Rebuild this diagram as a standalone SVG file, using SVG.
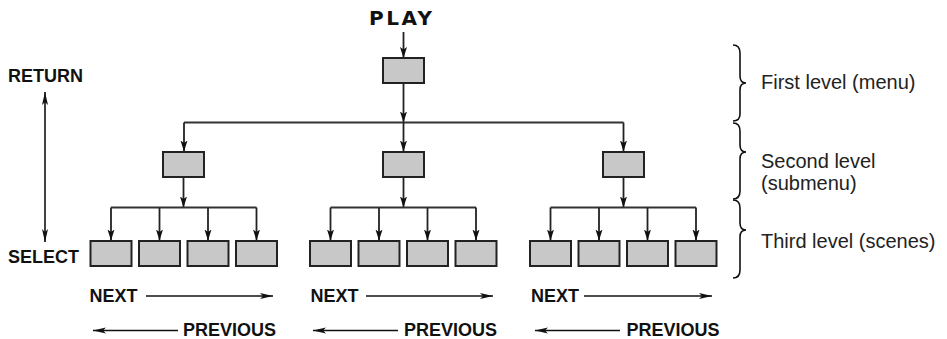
<svg xmlns="http://www.w3.org/2000/svg" width="947" height="339" viewBox="0 0 947 339">
  <defs>
    <marker id="ah" markerUnits="userSpaceOnUse" markerWidth="12" markerHeight="8" refX="11" refY="4" orient="auto">
      <path d="M0,0.5 L11,4 L0,7.5 L2.5,4 z" fill="#111"/>
    </marker>
    <marker id="ahl" markerUnits="userSpaceOnUse" markerWidth="14" markerHeight="8" refX="13" refY="4" orient="auto">
      <path d="M0,1 L13,4 L0,7 L3,4 z" fill="#111"/>
    </marker>
    <marker id="ahs" markerUnits="userSpaceOnUse" markerWidth="14" markerHeight="8" refX="1" refY="4" orient="auto">
      <path d="M14,1 L1,4 L14,7 L11,4 z" fill="#111"/>
    </marker>
  </defs>
  <style>
    .box { fill: #c8c8c8; stroke: #222; stroke-width: 2; }
    .ln { stroke: #333; stroke-width: 1.8; fill: none; }
    .arr { stroke: #222; stroke-width: 1.8; fill: none; marker-end: url(#ah); }
    .harr { stroke: #111; stroke-width: 1.6; fill: none; marker-end: url(#ahl); }
    .brace { stroke: #111; stroke-width: 1.6; fill: none; }
    .lbl { font-family: "Liberation Sans", Arial, sans-serif; font-weight: bold; font-size: 18px; fill: #111; }
    .play { font-family: "DejaVu Sans", "Liberation Sans", sans-serif; font-weight: bold; font-size: 20px; letter-spacing: 2.5px; fill: #111; }
    .lvl { font-family: "Liberation Sans", Arial, sans-serif; font-size: 20px; fill: #222; }
  </style>

  <text class="play" x="369" y="25">PLAY</text>
  <text class="lbl" x="8" y="82">RETURN</text>
  <text class="lbl" x="8" y="263">SELECT</text>

  <g id="connectors">
    <line class="arr" x1="403.5" y1="32" x2="403.5" y2="58"/>
    <line class="arr" x1="403.5" y1="84" x2="403.5" y2="122.5"/>
    <line class="ln" x1="184" y1="122.5" x2="623.5" y2="122.5"/>
    <line class="arr" x1="184" y1="122.5" x2="184" y2="151.5"/>
    <line class="arr" x1="403.5" y1="122.5" x2="403.5" y2="151.5"/>
    <line class="arr" x1="623.5" y1="122.5" x2="623.5" y2="151.5"/>

    <line class="arr" x1="183.5" y1="178" x2="183.5" y2="207.5"/>
    <line class="ln" x1="111" y1="207.5" x2="256.5" y2="207.5"/>
    <line class="arr" x1="111" y1="207.5" x2="111" y2="240.5"/>
    <line class="arr" x1="159.5" y1="207.5" x2="159.5" y2="240.5"/>
    <line class="arr" x1="208" y1="207.5" x2="208" y2="240.5"/>
    <line class="arr" x1="256.5" y1="207.5" x2="256.5" y2="240.5"/>

    <line class="arr" x1="403.5" y1="178" x2="403.5" y2="207.5"/>
    <line class="ln" x1="330.5" y1="207.5" x2="476" y2="207.5"/>
    <line class="arr" x1="330.5" y1="207.5" x2="330.5" y2="240.5"/>
    <line class="arr" x1="379" y1="207.5" x2="379" y2="240.5"/>
    <line class="arr" x1="427.5" y1="207.5" x2="427.5" y2="240.5"/>
    <line class="arr" x1="476" y1="207.5" x2="476" y2="240.5"/>

    <line class="arr" x1="623.5" y1="178" x2="623.5" y2="207.5"/>
    <line class="ln" x1="550.5" y1="207.5" x2="696" y2="207.5"/>
    <line class="arr" x1="550.5" y1="207.5" x2="550.5" y2="240.5"/>
    <line class="arr" x1="599" y1="207.5" x2="599" y2="240.5"/>
    <line class="arr" x1="647.5" y1="207.5" x2="647.5" y2="240.5"/>
    <line class="arr" x1="696" y1="207.5" x2="696" y2="240.5"/>

    <line class="harr" x1="45" y1="92" x2="45" y2="242" style="marker-start:url(#ahs)"/>
  </g>

  <g id="top"><rect class="box" x="383" y="58" width="41" height="25"/></g>
  <g id="sub1"><rect class="box" x="163" y="152" width="41" height="25"/></g>
  <g id="sub2"><rect class="box" x="383" y="152" width="41" height="25"/></g>
  <g id="sub3"><rect class="box" x="603" y="152" width="41" height="25"/></g>

  <g id="s1a"><rect class="box" x="90.5" y="241" width="41" height="25"/></g>
  <g id="s1b"><rect class="box" x="139" y="241" width="41" height="25"/></g>
  <g id="s1c"><rect class="box" x="187.5" y="241" width="41" height="25"/></g>
  <g id="s1d"><rect class="box" x="236" y="241" width="41" height="25"/></g>
  <g id="s2a"><rect class="box" x="310" y="241" width="41" height="25"/></g>
  <g id="s2b"><rect class="box" x="358.5" y="241" width="41" height="25"/></g>
  <g id="s2c"><rect class="box" x="407" y="241" width="41" height="25"/></g>
  <g id="s2d"><rect class="box" x="455.5" y="241" width="41" height="25"/></g>
  <g id="s3a"><rect class="box" x="530" y="241" width="41" height="25"/></g>
  <g id="s3b"><rect class="box" x="578.5" y="241" width="41" height="25"/></g>
  <g id="s3c"><rect class="box" x="627" y="241" width="41" height="25"/></g>
  <g id="s3d"><rect class="box" x="675.5" y="241" width="41" height="25"/></g>

  <g id="nav1">
    <text class="lbl" x="89.5" y="302">NEXT</text>
    <line class="harr" x1="146" y1="296" x2="273" y2="296"/>
    <line class="harr" x1="178" y1="330.5" x2="93" y2="330.5"/>
    <text class="lbl" x="183" y="335.5">PREVIOUS</text>
  </g>
  <g id="nav2">
    <text class="lbl" x="310.5" y="302">NEXT</text>
    <line class="harr" x1="366" y1="296" x2="493" y2="296"/>
    <line class="harr" x1="398" y1="330.5" x2="313" y2="330.5"/>
    <text class="lbl" x="404" y="335.5">PREVIOUS</text>
  </g>
  <g id="nav3">
    <text class="lbl" x="531" y="302">NEXT</text>
    <line class="harr" x1="584" y1="296" x2="712" y2="296"/>
    <line class="harr" x1="620" y1="330.5" x2="535" y2="330.5"/>
    <text class="lbl" x="626.5" y="335.5">PREVIOUS</text>
  </g>

  <g id="level1">
    <path class="brace" d="M733,45 Q740,45 740,53 L740,76 Q740,83 746,83 Q740,83 740,90 L740,114 Q740,121 733,121"/>
    <text class="lvl" x="761" y="89">First level (menu)</text>
  </g>
  <g id="level2">
    <path class="brace" d="M733,123 Q740,123 740,131 L740,145 Q740,152 746,152 Q740,152 740,159 L740,191 Q740,199 733,199"/>
    <text class="lvl" x="761" y="168">Second level</text>
    <text class="lvl" x="761" y="190">(submenu)</text>
  </g>
  <g id="level3">
    <path class="brace" d="M733,200 Q740,200 740,208 L740,223 Q740,230 746,230 Q740,230 740,237 L740,270 Q740,278 733,278"/>
    <text class="lvl" x="761" y="248">Third level (scenes)</text>
  </g>
</svg>
